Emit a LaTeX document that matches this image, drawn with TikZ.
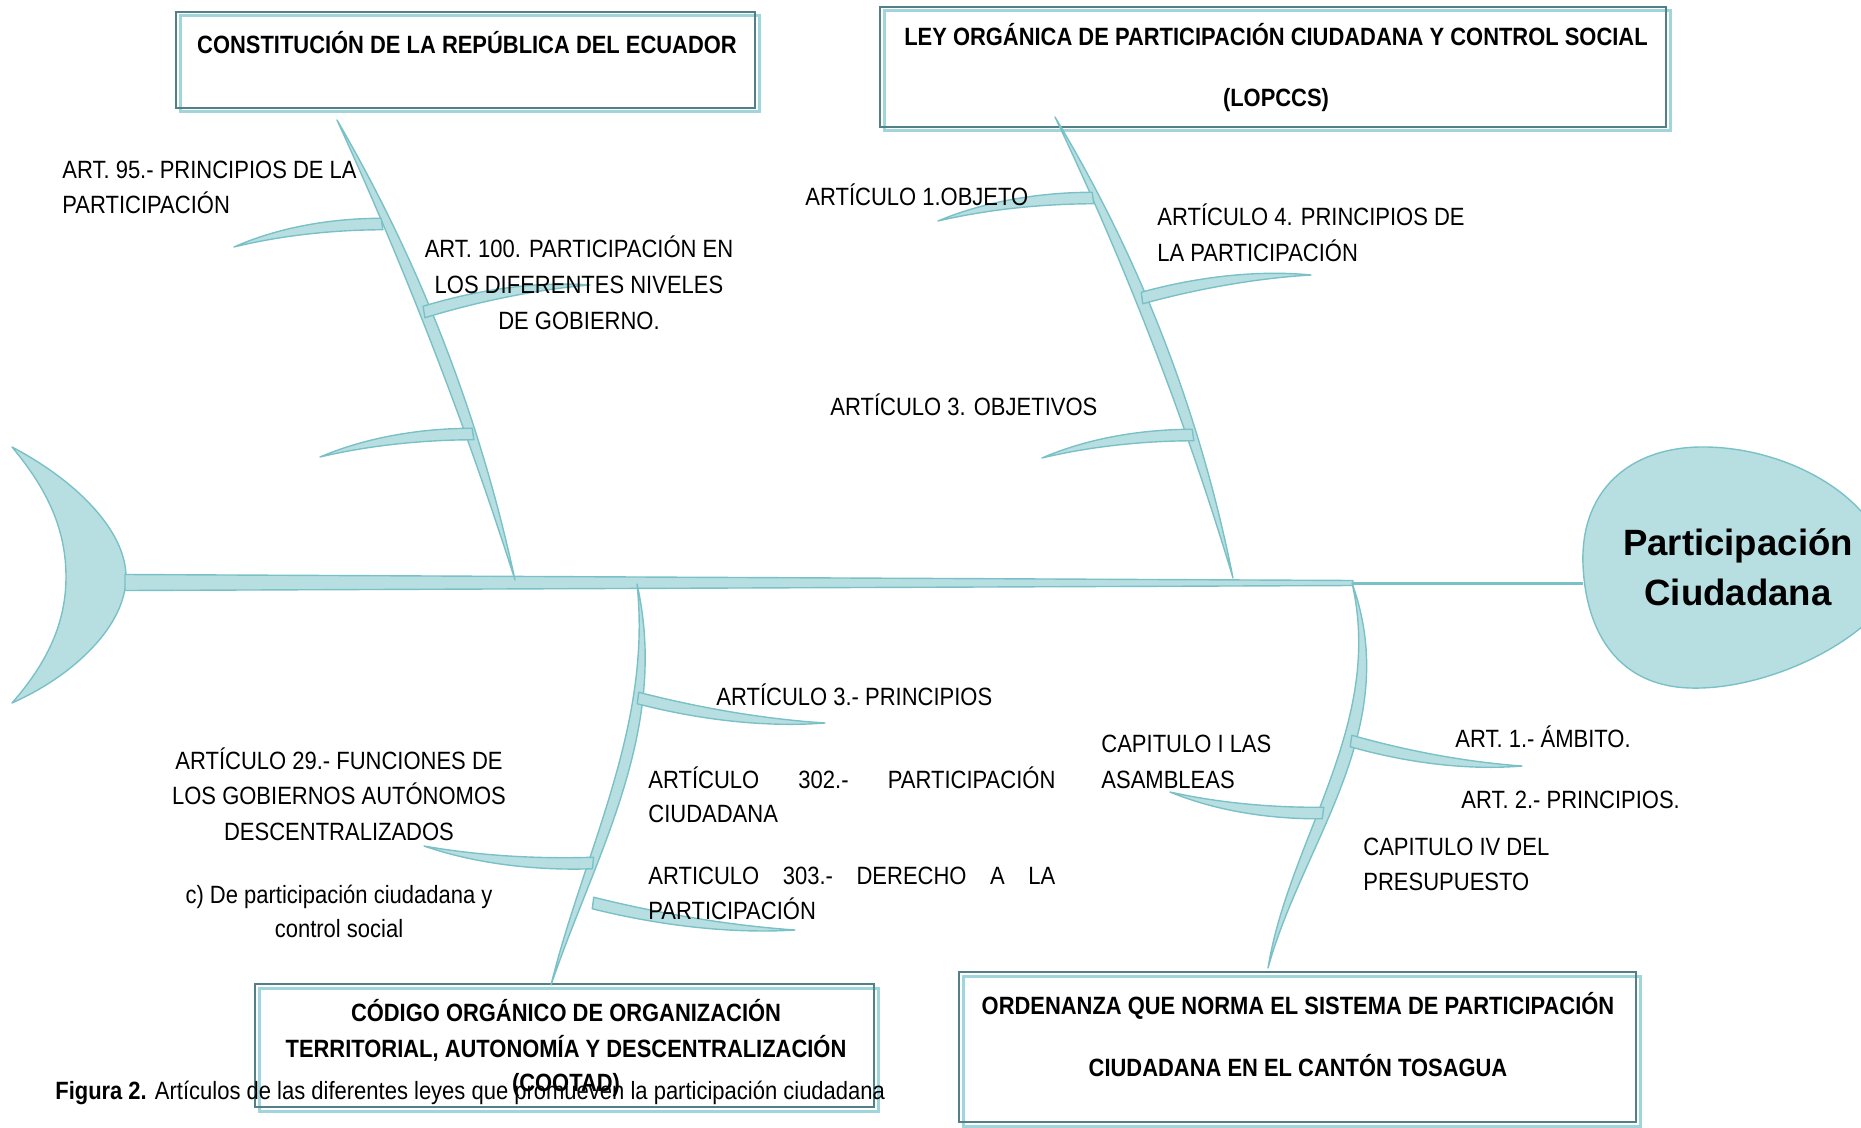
\documentclass[tikz,border=0pt]{standalone}
\usepackage{fontspec}
\setmainfont{Liberation Sans}[FakeStretch=0.88, BoldFeatures={FakeStretch=0.877}]
\newfontfamily\headfont{Liberation Sans}
\usetikzlibrary{calc}
\definecolor{bfill}{RGB}{183,223,226}
\definecolor{bline}{RGB}{122,193,199}
\definecolor{boxdark}{RGB}{82,128,132}
\definecolor{boxlight}{RGB}{160,214,219}
\tikzset{
  bone/.style={fill=bfill, draw=bline, line width=0.7pt, line join=round},
  lbl/.style={inner sep=0pt, font=\fontsize{12.5}{14}\selectfont},
  ttl/.style={inner sep=0pt, font=\fontsize{12.5}{14}\selectfont\bfseries},
  hd/.style={inner sep=0pt, font=\headfont\fontsize{18.3}{22}\selectfont\bfseries},
  boxd/.style={draw=boxdark, line width=1.1pt},
  boxl/.style={draw=boxlight, line width=1.5pt},
}
\newcommand\mainbone[6]{%
  \path[bone] (#1) .. controls ($(#1)!0.333!(#2)!#3pt!90:(#2)$) and ($(#1)!0.667!(#2)!#4pt!90:(#2)$) .. (#2)
     .. controls ($(#1)!0.667!(#2)!#6pt!90:(#2)$) and ($(#1)!0.333!(#2)!#5pt!90:(#2)$) .. (#1) -- cycle;}
\newcommand\subbone[4]{%
  \pgfmathsetmacro\sbA{#3+#4}\pgfmathsetmacro\sbB{#3+0.7*#4}%
  \pgfmathsetmacro\sbC{#3-0.7*#4}\pgfmathsetmacro\sbD{#3-#4}%
  \path[bone] ($(#1)!#4pt!90:(#2)$) .. controls ($(#1)!0.35!(#2)!\sbA pt!90:(#2)$) and ($(#1)!0.7!(#2)!\sbB pt!90:(#2)$) .. (#2)
     .. controls ($(#1)!0.7!(#2)!\sbC pt!90:(#2)$) and ($(#1)!0.35!(#2)!\sbD pt!90:(#2)$) .. ($(#1)!-#4pt!90:(#2)$) -- cycle;}
\begin{document}
\begin{tikzpicture}[x=0.5pt,y=-0.5pt]
\useasboundingbox (0,0) rectangle (1861,1128);
% boxes
\draw[boxl] (180,16) rectangle (759,112);
\draw[boxd] (176,12) rectangle (755,108);
\draw[boxl] (884,11) rectangle (1670,131);
\draw[boxd] (880,7) rectangle (1666,127);
\draw[boxl] (259,988) rectangle (878,1111);
\draw[boxd] (255,984) rectangle (874,1107);
\draw[boxl] (963,976) rectangle (1640,1126);
\draw[boxd] (959,972) rectangle (1636,1122);
% tail
\path[bone] (12,447) .. controls (75,480) and (126,530) .. (126,577) .. controls (126,625) and (75,675) .. (12,703)
  .. controls (48,662) and (66,622) .. (66,577) .. controls (66,530) and (48,490) .. (12,447) -- cycle;
% spine
\coordinate (spL) at (125,582.5);
\coordinate (spM) at (1353,583);
\coordinate (spR) at (1583,583);
\path[bone] (125,574.5) -- (1353,580.5) -- (1353,585.5) -- (125,590.5) -- cycle;
\draw[bline, line width=1.5pt] (spM) -- (spR);
% head
\begin{scope}
\clip (0,0) rectangle (1861,1128);
\path[bone] (1583,565) .. controls (1580,490) and (1630,448) .. (1700,447) .. controls (1770,446) and (1845,480) .. (1875,530)
  -- (1875,615) .. controls (1830,660) and (1750,690) .. (1690,688) .. controls (1620,686) and (1586,635) .. (1583,565) -- cycle;
\end{scope}
% main bones
\coordinate (tlA) at (337,120); \coordinate (tlB) at (515,580);
\coordinate (trA) at (1055,117); \coordinate (trB) at (1233,578);
\coordinate (blA) at (637,584); \coordinate (blB) at (551,985);
\coordinate (brA) at (1352,583); \coordinate (brB) at (1268,968);
\mainbone{tlA}{tlB}{13}{13}{5}{5}
\mainbone{trA}{trB}{14.3}{14.3}{6.3}{6.3}
\mainbone{blA}{blB}{31.5}{8}{22.5}{2}
\mainbone{brA}{brB}{41}{3.5}{31}{-3.5}
% sub bones
\coordinate (s1A) at (382,224); \coordinate (s1B) at (234,247);
\coordinate (s2A) at (424,312); \coordinate (s2B) at (590,285);
\coordinate (s3A) at (473,434); \coordinate (s3B) at (320,457);
\coordinate (t1A) at (1093,198); \coordinate (t1B) at (938,221);
\coordinate (t2A) at (1142,298); \coordinate (t2B) at (1311,275);
\coordinate (t3A) at (1193,435); \coordinate (t3B) at (1042,458);
\coordinate (b1A) at (638,698); \coordinate (b1B) at (825,723);
\coordinate (b2A) at (593,863); \coordinate (b2B) at (424,846);
\coordinate (b3A) at (593,903); \coordinate (b3B) at (795,930);
\coordinate (r1A) at (1323,813); \coordinate (r1B) at (1170,792);
\coordinate (r2A) at (1351,741); \coordinate (r2B) at (1522,766);
\subbone{s1A}{s1B}{-4}{2.9}
\subbone{s2A}{s2B}{4}{2.9}
\subbone{s3A}{s3B}{-4}{2.9}
\subbone{t1A}{t1B}{-4}{2.9}
\subbone{t2A}{t2B}{4}{2.9}
\subbone{t3A}{t3B}{-4}{2.9}
\subbone{b1A}{b1B}{-4}{2.9}
\subbone{b2A}{b2B}{4}{2.9}
\subbone{b3A}{b3B}{-4}{2.9}
\subbone{r1A}{r1B}{4}{2.9}
\subbone{r2A}{r2B}{-4}{2.9}
% box titles
\node[ttl, anchor=base] (h1) at (467,54) {CONSTITUCIÓN DE LA REPÚBLICA DEL ECUADOR};
\node[ttl, anchor=base] (h2a) at (1276,46) {LEY ORGÁNICA DE PARTICIPACIÓN CIUDADANA Y CONTROL SOCIAL};
\node[ttl, anchor=base] (h2b) at (1276,107) {(LOPCCS)};
\node[ttl, anchor=base] (h3a) at (566,1021) {CÓDIGO ORGÁNICO DE ORGANIZACIÓN};
\node[ttl, anchor=base] (h3b) at (566,1057) {TERRITORIAL, AUTONOMÍA Y DESCENTRALIZACIÓN};
\node[ttl, anchor=base] (h3c) at (566,1091) {(COOTAD)};
\node[ttl, anchor=base] (h4a) at (1298,1014) {ORDENANZA QUE NORMA EL SISTEMA DE PARTICIPACIÓN};
\node[ttl, anchor=base] (h4b) at (1298,1076) {CIUDADANA EN EL CANTÓN TOSAGUA};
% head text
\node[hd, anchor=base] (pa) at (1738,555) {Participación};
\node[hd, anchor=base] (pb) at (1738,605) {Ciudadana};
% labels
\node[lbl, anchor=base west] (t95a) at (62,179) {ART. 95.- PRINCIPIOS DE LA};
\node[lbl, anchor=base west] (t95b) at (62,214) {PARTICIPACIÓN};
\node[lbl, anchor=base] (t100a) at (579,258) {ART. 100. PARTICIPACIÓN EN};
\node[lbl, anchor=base] (t100b) at (579,294) {LOS DIFERENTES NIVELES};
\node[lbl, anchor=base] (t100c) at (579,329) {DE GOBIERNO.};
\node[lbl, anchor=base west] (ta1) at (805,206) {ARTÍCULO 1.OBJETO};
\node[lbl, anchor=base west] (ta4a) at (1157,226) {ARTÍCULO 4. PRINCIPIOS DE};
\node[lbl, anchor=base west] (ta4b) at (1157,262) {LA PARTICIPACIÓN};
\node[lbl, anchor=base west] (ta3) at (830,415) {ARTÍCULO 3. OBJETIVOS};
\node[lbl, anchor=base west] (tb3) at (716,705) {ARTÍCULO 3.- PRINCIPIOS};
\node[lbl, anchor=base] (t29a) at (339,769) {ARTÍCULO 29.- FUNCIONES DE};
\node[lbl, anchor=base] (t29b) at (339,804) {LOS GOBIERNOS AUTÓNOMOS};
\node[lbl, anchor=base] (t29c) at (339,840) {DESCENTRALIZADOS};
\node[lbl, anchor=base] (tca) at (339,903) {c) De participación ciudadana y};
\node[lbl, anchor=base] (tcb) at (339,937) {control social};
\node[lbl, anchor=base west] (t302a) at (648,788) {\makebox[203.5pt][s]{ARTÍCULO 302.- PARTICIPACIÓN}};
\node[lbl, anchor=base west] (t302b) at (648,822) {CIUDADANA};
\node[lbl, anchor=base west] (t303a) at (648,884) {\makebox[203.5pt][s]{ARTICULO 303.- DERECHO A LA}};
\node[lbl, anchor=base west] (t303b) at (648,919) {PARTICIPACIÓN};
\node[lbl, anchor=base west] (tc1a) at (1101,752) {CAPITULO I LAS};
\node[lbl, anchor=base west] (tc1b) at (1101,788) {ASAMBLEAS};
\node[lbl, anchor=base west] (tamb) at (1455,747) {ART. 1.- ÁMBITO.};
\node[lbl, anchor=base west] (tpri) at (1461,808) {ART. 2.- PRINCIPIOS.};
\node[lbl, anchor=base west] (tc4a) at (1363,855) {CAPITULO IV DEL};
\node[lbl, anchor=base west] (tc4b) at (1363,890) {PRESUPUESTO};
% caption
\node[lbl, anchor=base west] (cap) at (55,1099) {\textbf{Figura 2.} Artículos\ de las diferentes leyes que promueven la participación ciudadana};
\end{tikzpicture}
\end{document}
